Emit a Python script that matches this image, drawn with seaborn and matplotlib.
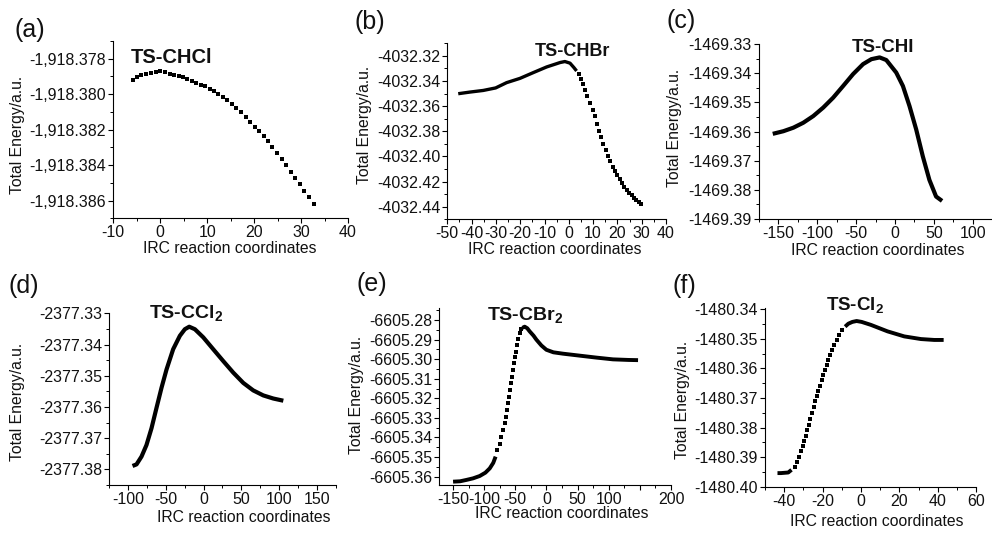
import matplotlib
matplotlib.use("Agg")
import matplotlib.pyplot as plt
import seaborn as sns
from matplotlib.ticker import MultipleLocator, FuncFormatter

# ---------------- data ----------------
# (a) TS-CHCl : discrete points
xa = [-5.9, -5.0, -4.0, -3.0, -2.0, -1.0, 0.0, 1.0, 2.0, 2.9, 3.9, 4.9, 5.8, 6.7, 7.6,
      8.6, 9.5, 10.5, 11.4, 12.4, 13.3, 14.2, 15.2, 16.2, 17.2, 18.2, 19.2, 20.1, 21.0,
      22.0, 22.9, 23.9, 24.9, 25.9, 26.8, 27.8, 28.8, 29.8, 30.7, 31.7, 32.7]
ya = [-1918.37918, -1918.37903, -1918.37891, -1918.37884, -1918.37878, -1918.37874,
      -1918.37872, -1918.37876, -1918.37884, -1918.37889, -1918.37895, -1918.37904,
      -1918.37914, -1918.37923, -1918.37937, -1918.37946, -1918.37956, -1918.37969,
      -1918.37984, -1918.37999, -1918.38016, -1918.38035, -1918.38056, -1918.38079,
      -1918.38103, -1918.38130, -1918.38156, -1918.38183, -1918.38209, -1918.38238,
      -1918.38264, -1918.38297, -1918.38329, -1918.38367, -1918.38401, -1918.38439,
      -1918.38471, -1918.38509, -1918.38547, -1918.38581, -1918.38619]

# (b) TS-CHBr : dense part + discrete points
xb_line = [-45.5, -40.7, -35.2, -30.1, -25.6, -20.1, -14.6, -9.1, -5.0, -3.6, -1.6, 0.5, 2.1, 3.2]
yb_line = [-4032.3501, -4032.3488, -4032.3475, -4032.3455, -4032.3413, -4032.3379, -4032.3333,
           -4032.3288, -4032.3262, -4032.3253, -4032.3245, -4032.3258, -4032.3293, -4032.3320]
xb_dot = [4.2, 5.0, 6.0, 6.8, 7.6, 8.7, 9.8, 10.6, 11.5, 12.3, 13.3, 14.2, 15.2, 16.1, 17.1,
          18.1, 19.0, 20.0, 20.9, 21.9, 22.9, 23.8, 24.9, 25.9, 26.8, 27.8, 28.8, 29.7]
yb_dot = [-4032.3346, -4032.3386, -4032.3426, -4032.3472, -4032.3520, -4032.3573, -4032.3634,
          -4032.3680, -4032.3738, -4032.3794, -4032.3845, -4032.3898, -4032.3946, -4032.3994,
          -4032.4040, -4032.4080, -4032.4112, -4032.4144, -4032.4176, -4032.4208, -4032.4240,
          -4032.4266, -4032.4288, -4032.4309, -4032.4330, -4032.4346, -4032.4362, -4032.4381]

# (c) TS-CHI
xc = [-157.3, -143.6, -130.8, -118.0, -105.1, -92.3, -79.5, -66.7, -53.8, -41.0, -30.3,
      -19.7, -11.1, 1.7, 10.3, 18.8, 27.4, 35.9, 44.4, 53.0, 60.7]
yc = [-1469.3608, -1469.3599, -1469.3587, -1469.3570, -1469.3547, -1469.3518, -1469.3484,
      -1469.3444, -1469.3403, -1469.3369, -1469.3352, -1469.3346, -1469.3355, -1469.3398,
      -1469.3444, -1469.3513, -1469.3593, -1469.3685, -1469.3766, -1469.3823, -1469.3838]

# (d) TS-CCl2
xd = [-94.2, -88.9, -82.3, -75.7, -69.0, -62.4, -55.8, -49.1, -40.3, -31.4, -24.8, -19.0,
      -11.5, -0.4, 12.8, 26.1, 39.4, 52.7, 65.9, 79.2, 92.5, 105.8]
yd = [-2377.3789, -2377.3784, -2377.3759, -2377.3722, -2377.3668, -2377.3603, -2377.3539,
      -2377.3480, -2377.3415, -2377.3372, -2377.3351, -2377.3343, -2377.3351, -2377.3377,
      -2377.3415, -2377.3453, -2377.3490, -2377.3523, -2377.3547, -2377.3563, -2377.3573,
      -2377.3580]

# (e) TS-CBr2
xe_line1 = [-149.9, -138.6, -128.4, -117.8, -107.1, -98.0, -91.0, -85.4, -81.6]
ye_line1 = [-6605.3626, -6605.3624, -6605.3617, -6605.3609, -6605.3597, -6605.3580,
            -6605.3558, -6605.3530, -6605.3498]
xe_dot = [-79.2, -75.0, -72.3, -69.6, -67.0, -65.3, -63.2, -61.6, -60.0, -59.0, -57.3,
          -55.7, -54.1, -52.5, -50.9, -49.3, -47.2, -45.0, -42.9, -40.2]
ye_dot = [-6605.3464, -6605.3433, -6605.3396, -6605.3362, -6605.3324, -6605.3294, -6605.3260,
          -6605.3226, -6605.3192, -6605.3158, -6605.3123, -6605.3089, -6605.3055, -6605.3021,
          -6605.2991, -6605.2962, -6605.2928, -6605.2899, -6605.2868, -6605.2848]
xe_line2 = [-38.6, -34.9, -30.8, -26.9, -20.7, -16.2, -8.1, -0.1, 11.2, 26.7, 53.4, 80.2,
            106.9, 132.0, 147.1]
ye_line2 = [-6605.2840, -6605.2834, -6605.2842, -6605.2858, -6605.2880, -6605.2900, -6605.2930,
            -6605.2952, -6605.2965, -6605.2972, -6605.2982, -6605.2992, -6605.3001, -6605.3004,
            -6605.3005]

# (f) TS-Cl2
xf_line1 = [-43.5, -41.7, -37.9, -36.2]
yf_line1 = [-1480.3954, -1480.3954, -1480.3952, -1480.3943]
xf_dot = [-34.5, -33.2, -32.1, -31.3, -30.4, -29.5, -28.9, -28.0, -27.1, -26.4, -25.6, -24.7,
          -24.0, -23.1, -22.3, -21.4, -20.5, -19.7, -18.8, -17.9, -17.0, -16.0, -15.0, -13.9,
          -12.7, -11.5, -10.1]
yf_dot = [-1480.3932, -1480.3918, -1480.3900, -1480.3881, -1480.3864, -1480.3847, -1480.3830,
          -1480.3810, -1480.3791, -1480.3772, -1480.3751, -1480.3731, -1480.3712, -1480.3695,
          -1480.3675, -1480.3659, -1480.3639, -1480.3622, -1480.3605, -1480.3588, -1480.3571,
          -1480.3554, -1480.3537, -1480.3521, -1480.3504, -1480.3487, -1480.3472]
xf_line2 = [-8.3, -6.6, -4.5, -2.3, 0.3, 5.1, 13.8, 22.5, 31.2, 38.1, 43.0]
yf_line2 = [-1480.3459, -1480.3449, -1480.3443, -1480.3440, -1480.3443, -1480.3453, -1480.3475,
            -1480.3492, -1480.3501, -1480.3504, -1480.3504]

panel_letters = ["(a)", "(b)", "(c)", "(d)", "(e)", "(f)"]
panel_titles = ["TS-CHCl", "TS-CHBr", "TS-CHI", "TS-CCl$_\\mathbf{2}$",
                "TS-CBr$_\\mathbf{2}$", "TS-Cl$_\\mathbf{2}$"]
xlabel_text = "IRC reaction coordinates"
ylabel_text = "Total Energy/a.u."
e_hidden_tick = 150  # tick left unlabelled in panel (e)

# ---------------- style ----------------
sns.set_theme(style="ticks")
plt.rcParams["font.family"] = ["Liberation Sans", "DejaVu Sans"]
plt.rcParams["mathtext.fontset"] = "custom"
plt.rcParams["mathtext.rm"] = "Liberation Sans"
plt.rcParams["mathtext.bf"] = "Liberation Sans:bold"
plt.rcParams["axes.linewidth"] = 0.8

W, H = 992, 534
fig = plt.figure(figsize=(W / 100, H / 100), dpi=100)
fig.patch.set_facecolor("white")


def px_axes(left, top, right, bottom):
    ax = fig.add_axes([left / W, 1 - bottom / H, (right - left) / W, (bottom - top) / H])
    ax.set_facecolor("white")
    ax.patch.set_alpha(0)
    return ax


def style(ax, xlim, ylim, xmaj, xmin, ymaj, ymin, yfmt, xlab_pos, ylab_pos, xfmt=None):
    ax.set_xlim(*xlim)
    ax.set_ylim(*ylim)
    ax.xaxis.set_major_locator(MultipleLocator(xmaj))
    ax.xaxis.set_minor_locator(MultipleLocator(xmin))
    ax.yaxis.set_major_locator(MultipleLocator(ymaj))
    ax.yaxis.set_minor_locator(MultipleLocator(ymin))
    ax.yaxis.set_major_formatter(FuncFormatter(yfmt))
    if xfmt is None:
        xfmt = lambda v, p: "%g" % round(v, 6)
    ax.xaxis.set_major_formatter(FuncFormatter(xfmt))
    for s in ["top", "right"]:
        ax.spines[s].set_visible(False)
    for s in ["left", "bottom"]:
        ax.spines[s].set_color("black")
        ax.spines[s].set_linewidth(0.8)
    ax.tick_params(which="major", direction="out", length=3.6, width=0.8, color="black",
                   labelsize=11.5, labelcolor="#111111", pad=1.5)
    ax.tick_params(which="minor", direction="out", length=2.0, width=0.7, color="black")
    ax.set_xlabel(xlabel_text, fontsize=11.3, color="#111111", va="center")
    ax.set_ylabel(ylabel_text, fontsize=11.3, color="#111111", va="center")
    ax.xaxis.set_label_coords(xlab_pos[0] / W, 1 - xlab_pos[1] / H, transform=fig.transFigure)
    ax.yaxis.set_label_coords(ylab_pos[0] / W, 1 - ylab_pos[1] / H, transform=fig.transFigure)
    ax.grid(False)


def dots(ax, x, y, s=7):
    sns.scatterplot(x=x, y=y, ax=ax, marker="s", s=s, color="black", linewidth=0, legend=False)


def line(ax, x, y, lw):
    sns.lineplot(x=x, y=y, ax=ax, color="black", lw=lw, sort=False, estimator=None,
                 legend=False, solid_capstyle="butt")


fmt2 = lambda v, p: "%.2f" % v
fmta = lambda v, p: "{:,.3f}".format(v)
fmte = lambda v, p: "" if abs(v - e_hidden_tick) < 1e-6 else "%g" % round(v, 6)

# (a)
ax = px_axes(113.3, 41, 348, 218.3)
dots(ax, xa, ya, s=6.5)
style(ax, (-10, 40), (-1918.387, -1918.377), 10, 5, 0.002, 0.001, fmta, (230, 249), (17.5, 135))

# (b)
ax = px_axes(447.3, 43.3, 666, 219.3)
line(ax, xb_line, yb_line, 2.4)
dots(ax, xb_dot, yb_dot, s=7)
style(ax, (-50, 40), (-4032.45, -4032.31), 10, 5, 0.02, 0.01, fmt2, (555, 250), (364, 125))

# (c)
ax = px_axes(759, 44, 992, 219)
line(ax, xc, yc, 3.0)
style(ax, (-175, 125), (-1469.39, -1469.33), 50, 25, 0.01, 0.005, fmt2, (878, 251), (675, 128))

# (d)
ax = px_axes(109.3, 313.3, 335.5, 485)
line(ax, xd, yd, 3.0)
style(ax, (-125, 175), (-2377.385, -2377.33), 50, 25, 0.01, 0.005, fmt2, (244, 518), (17.5, 402))

# (e)
ax = px_axes(439.3, 307.7, 671, 485)
line(ax, xe_line1, ye_line1, 2.8)
dots(ax, xe_dot, ye_dot, s=7)
line(ax, xe_line2, ye_line2, 2.8)
style(ax, (-172, 200), (-6605.3643, -6605.2737), 50, 25, 0.01, 0.005, fmt2, (562, 513.5),
      (356.7, 395), xfmt=fmte)

# (f)
ax = px_axes(765, 307.7, 976.3, 486.7)
line(ax, xf_line1, yf_line1, 2.8)
dots(ax, xf_dot, yf_dot, s=7)
line(ax, xf_line2, yf_line2, 2.8)
style(ax, (-50, 60), (-1480.40, -1480.3395), 20, 10, 0.01, 0.005, fmt2, (877, 521), (683, 400))

# panel letters and titles
letter_pos = [(15, 30), (355, 22), (667, 21), (8, 286), (357, 283.5), (673, 286)]
title_pos = [(130.7, 63.3, 14.5), (535, 56, 13), (851.7, 52.3, 13.5),
             (149, 318.3, 14), (486.7, 321, 14), (825.7, 310.7, 13.5)]
for lab, (lx, ly) in zip(panel_letters, letter_pos):
    fig.text(lx / W, 1 - ly / H, lab, fontsize=18, ha="left", va="center", color="#111111")
for t, (tx, ty, fs) in zip(panel_titles, title_pos):
    fig.text(tx / W, 1 - ty / H, t, fontsize=fs, fontweight="bold", ha="left",
             va="baseline", color="#111111")

fig.savefig("out.png", dpi=100)
